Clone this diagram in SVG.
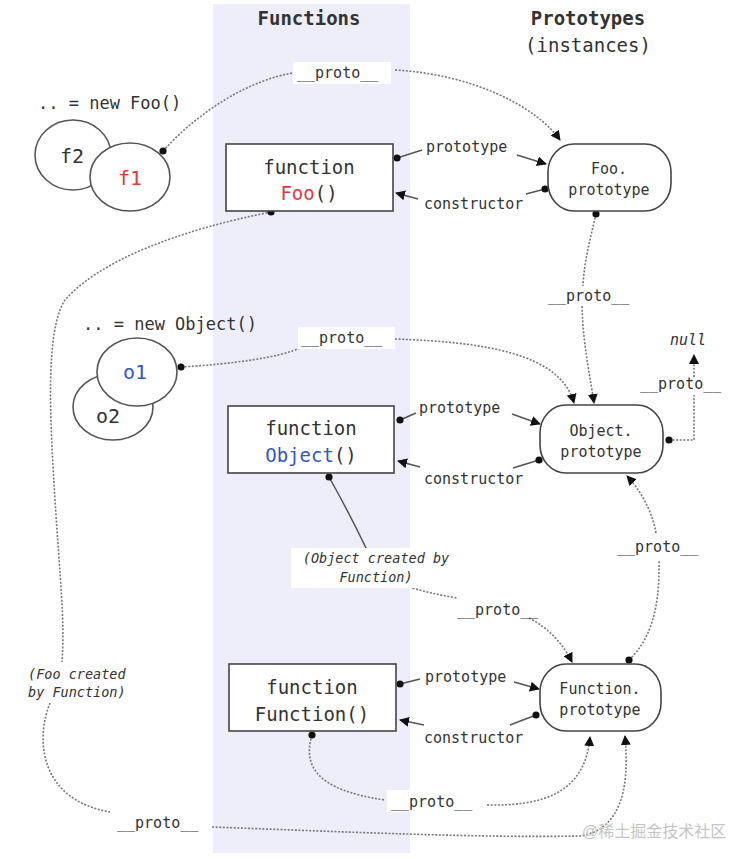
<svg xmlns="http://www.w3.org/2000/svg" width="744" height="859" viewBox="0 0 744 859">
<style>
.mono{font-family:"DejaVu Sans Mono","Liberation Mono",monospace;fill:#333}
.title{font-size:19px;font-weight:bold;text-anchor:middle}
.boxt{font-size:19px;text-anchor:middle}
.prot{font-size:15px;text-anchor:middle}
.lbl{font-size:15px}
.ital{font-size:13.5px;font-style:italic}
.box{fill:#fff;stroke:#444;stroke-width:1.6}
.ell{fill:#fff;stroke:#555;stroke-width:1.6}
.dot{fill:none;stroke:#777;stroke-width:1.6;stroke-dasharray:2 1.6}
.sol{fill:none;stroke:#555;stroke-width:1.5}
.bg{fill:#fff}
.red{fill:#e03a3a}
.blue{fill:#3355cc}
</style>
<defs>
<marker id="arr" viewBox="0 0 10 10" refX="9" refY="5" markerWidth="10" markerHeight="10" markerUnits="userSpaceOnUse" orient="auto">
<path d="M0,0 L10,5 L0,10 z" fill="#111"/>
</marker>
<marker id="dt" viewBox="0 0 8 8" refX="4" refY="4" markerWidth="8" markerHeight="8" markerUnits="userSpaceOnUse">
<circle cx="4" cy="4" r="3.6" fill="#111"/>
</marker>
</defs>
<rect x="0" y="0" width="744" height="859" fill="#fff"/>
<rect x="213" y="4" width="197" height="849" fill="#eeeefb"/>
<g id="titles">
<text class="mono title" x="309" y="25">Functions</text>
<text class="mono title" x="588" y="25">Prototypes</text>
<text class="mono title" x="588" y="52" style="font-weight:normal">(instances)</text>
</g>
<g id="connectors">
<!-- f1 __proto__ -> Foo.prototype -->
<path class="dot" d="M163,151 C200,110 250,80 293,73" marker-start="url(#dt)"/>
<path class="dot" d="M395,70 C470,74 535,105 560,140" marker-end="url(#arr)"/>
<!-- Foo prototype -->
<path class="sol" d="M397,158 L422,150" marker-start="url(#dt)"/>
<path class="sol" d="M517,155 L546,164" marker-end="url(#arr)"/>
<!-- Foo constructor -->
<path class="sol" d="M545,189 L526,194" marker-start="url(#dt)"/>
<path class="sol" d="M418,199 L396,193" marker-end="url(#arr)"/>
<!-- Foo.prototype __proto__ -> Object.prototype -->
<path class="dot" d="M596,214 C590,240 584,262 583,286" marker-start="url(#dt)"/>
<path class="dot" d="M582,306 C583,345 590,375 594,403" marker-end="url(#arr)"/>
<!-- o1 __proto__ -> Object.prototype -->
<path class="dot" d="M181,367 C230,364 280,358 302,347" marker-start="url(#dt)"/>
<path class="dot" d="M395,339 C480,342 560,352 574,403" marker-end="url(#arr)"/>
<!-- Object prototype -->
<path class="sol" d="M400,420 L416,413" marker-start="url(#dt)"/>
<path class="sol" d="M512,414 L540,424" marker-end="url(#arr)"/>
<!-- Object constructor -->
<path class="sol" d="M539,460 L513,468" marker-start="url(#dt)"/>
<path class="sol" d="M420,467 L398,461" marker-end="url(#arr)"/>
<!-- Object.prototype __proto__ -> null -->
<path class="dot" d="M669,440 L694,440 L694,395" marker-start="url(#dt)"/>
<path class="dot" d="M694,377 L694,355" marker-end="url(#arr)"/>
<!-- Object() created by Function -->
<path class="sol" d="M329,477 C342,500 355,525 366,548" marker-start="url(#dt)"/>
<path class="dot" d="M409,587 C425,592 440,595 457,598"/>
<path class="dot" d="M529,618 C548,628 562,642 572,662" marker-end="url(#arr)"/>
<!-- Function.prototype __proto__ -> Object.prototype -->
<path class="dot" d="M629,660 C650,640 660,610 659,560" marker-start="url(#dt)"/>
<path class="dot" d="M656,533 C652,510 640,490 627,476" marker-end="url(#arr)"/>
<!-- Function prototype -->
<path class="sol" d="M400,684 L420,679" marker-start="url(#dt)"/>
<path class="sol" d="M514,682 L539,689" marker-end="url(#arr)"/>
<!-- Function constructor -->
<path class="sol" d="M536,715 L510,725" marker-start="url(#dt)"/>
<path class="sol" d="M424,725 L400,720" marker-end="url(#arr)"/>
<!-- Function() __proto__ -> Function.prototype -->
<path class="dot" d="M312,735 C303,765 315,790 385,800" marker-start="url(#dt)"/>
<path class="dot" d="M487,805 C540,806 585,795 590,737" marker-end="url(#arr)"/>
<!-- Foo() created by Function, __proto__ -> Function.prototype -->
<path class="dot" d="M271,212 C180,230 100,260 65,300 C45,330 50,420 55,500 C60,580 65,620 62,662" marker-start="url(#dt)"/>
<path class="dot" d="M50,703 C35,740 40,800 110,812"/>
<path class="dot" d="M212,827 C350,832 480,838 580,836 C620,830 630,790 625,736" marker-end="url(#arr)"/>
</g>
<g id="labels">
<rect class="bg" x="293" y="62" width="98" height="22"/>
<text class="mono lbl" x="297" y="78">__proto__</text>
<text class="mono lbl" x="426" y="152">prototype</text>
<text class="mono lbl" x="424" y="209">constructor</text>
<text class="mono lbl" x="548" y="301">__proto__</text>
<rect class="bg" x="298" y="327" width="97" height="22"/>
<text class="mono lbl" x="301" y="343">__proto__</text>
<text class="mono lbl" x="419" y="413">prototype</text>
<text class="mono lbl" x="424" y="484">constructor</text>
<text class="mono lbl" x="640" y="389">__proto__</text>
<text class="mono" x="670" y="345" style="font-size:15px;font-style:italic">null</text>
<rect class="bg" x="291" y="548" width="172" height="40"/>
<text class="mono ital" x="376" y="563" text-anchor="middle">(Object created by</text>
<text class="mono ital" x="376" y="582" text-anchor="middle">Function)</text>
<text class="mono lbl" x="457" y="615">__proto__</text>
<text class="mono lbl" x="617" y="552">__proto__</text>
<text class="mono lbl" x="425" y="682">prototype</text>
<text class="mono lbl" x="424" y="743">constructor</text>
<rect class="bg" x="387" y="790" width="95" height="22"/>
<text class="mono lbl" x="391" y="807">__proto__</text>
<text class="mono ital" x="28" y="679">(Foo created</text>
<text class="mono ital" x="28" y="697">by Function)</text>
<text class="mono lbl" x="117" y="828">__proto__</text>
</g>
<g id="foo-instances">
<text class="mono" x="38" y="109" style="font-size:17px">.. = new Foo()</text>
<ellipse class="ell" cx="73" cy="155" rx="38" ry="35"/>
<text class="mono" x="72" y="163" style="font-size:20px;text-anchor:middle">f2</text>
<ellipse class="ell" cx="130" cy="177" rx="40" ry="34"/>
<text class="mono red" x="130" y="185" style="font-size:20px;text-anchor:middle">f1</text>
</g>
<g id="object-instances">
<text class="mono" x="83" y="330" style="font-size:17px">.. = new Object()</text>
<ellipse class="ell" cx="113" cy="407" rx="40" ry="33"/>
<text class="mono" x="108" y="423" style="font-size:20px;text-anchor:middle">o2</text>
<ellipse class="ell" cx="137" cy="372" rx="40" ry="34"/>
<text class="mono blue" x="135" y="379" style="font-size:20px;text-anchor:middle">o1</text>
</g>
<g id="fn-foo">
<rect class="box" x="226" y="144" width="167" height="67"/>
<text class="mono boxt" x="309" y="174">function</text>
<text class="mono boxt" x="309" y="200"><tspan class="red">Foo</tspan>()</text>
</g>
<g id="fn-object">
<rect class="box" x="228" y="406" width="166" height="67"/>
<text class="mono boxt" x="311" y="435">function</text>
<text class="mono boxt" x="311" y="462"><tspan class="blue">Object</tspan>()</text>
</g>
<g id="fn-function">
<rect class="box" x="229" y="664" width="167" height="67"/>
<text class="mono boxt" x="312" y="694">function</text>
<text class="mono boxt" x="312" y="721">Function()</text>
</g>
<g id="foo-prototype">
<rect class="box" x="548" y="144" width="123" height="67" rx="26" ry="28"/>
<text class="mono prot" x="609" y="174">Foo.</text>
<text class="mono prot" x="609" y="195">prototype</text>
</g>
<g id="object-prototype">
<rect class="box" x="540" y="405" width="123" height="68" rx="26" ry="28"/>
<text class="mono prot" x="601" y="436">Object.</text>
<text class="mono prot" x="601" y="457">prototype</text>
</g>
<g id="function-prototype">
<rect class="box" x="540" y="664" width="121" height="67" rx="26" ry="28"/>
<text class="mono prot" x="600" y="694">Function.</text>
<text class="mono prot" x="600" y="715">prototype</text>
</g>
<text x="582" y="837" style="font-family:'Liberation Sans','Noto Sans CJK SC',sans-serif;font-size:16px;fill:#c4c4c4">@稀土掘金技术社区</text>
</svg>
